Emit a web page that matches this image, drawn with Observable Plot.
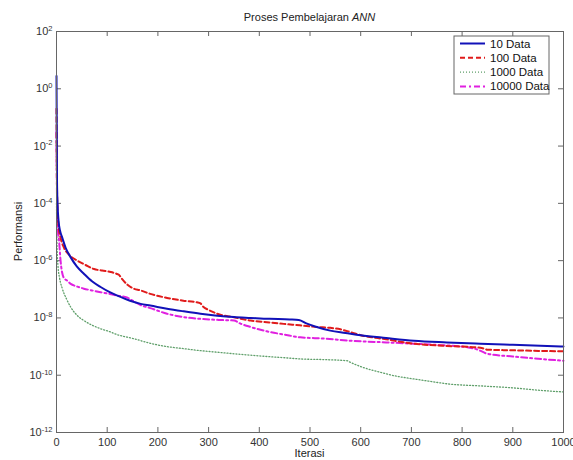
<!DOCTYPE html>
<html><head><meta charset="utf-8">
<script src="https://cdn.jsdelivr.net/npm/d3@7"></script>
<script src="https://cdn.jsdelivr.net/npm/@observablehq/plot@0.6"></script>
<style>body{margin:0;background:#fff} #chart{width:573px;height:460px}</style>
</head><body><div id="chart"></div>
<script>
const seriesNames = ["10 Data", "100 Data", "1000 Data", "10000 Data"];

const iter10 = [0,1,2,4,7,11,18,28,40,54,70,87,105,120,145,166,185,218,251,284,317,350,383,420,460,478,494,510,540,570,600,650,705,770,836,900,1000];
const perf10 = [2.8,6.3e-4,1e-4,2.5e-5,1.1e-5,6.6e-6,2.8e-6,1.3e-6,6.3e-7,3.5e-7,1.9e-7,1.2e-7,7.9e-8,6.0e-8,4.0e-8,3.1e-8,2.7e-8,2.1e-8,1.7e-8,1.4e-8,1.2e-8,1.07e-8,1.0e-8,9.3e-9,8.9e-9,8.5e-9,6.3e-9,5.0e-9,3.6e-9,3.0e-9,2.5e-9,2.0e-9,1.6e-9,1.4e-9,1.26e-9,1.15e-9,1.0e-9];

const iter100 = [0,1,2,4,8,14,25,41,57,74,90,107,118,123,130,139,150,166,185,218,250,277,284,290,300,317,350,383,415,448,480,514,540,560,580,600,650,705,770,836,850,900,1000];
const perf100 = [0.2,3.2e-4,6.3e-5,1.6e-5,6.3e-6,3.0e-6,1.6e-6,1.0e-6,7.1e-7,5.1e-7,4.5e-7,4.0e-7,3.5e-7,3.2e-7,2.2e-7,1.5e-7,1.1e-7,9.1e-8,6.9e-8,5.0e-8,4.0e-8,3.5e-8,3.2e-8,2.4e-8,1.9e-8,1.4e-8,1.05e-8,8.1e-9,7.1e-9,6.2e-9,5.5e-9,4.8e-9,4.5e-9,4.0e-9,3.2e-9,2.5e-9,1.8e-9,1.26e-9,1.05e-9,9.1e-10,7.8e-10,7.4e-10,6.8e-10];

const iter1000 = [0,1,3,6,11,20,28,40,54,70,87,105,120,152,185,218,250,284,320,350,383,415,448,481,530,573,580,600,639,670,705,740,771,840,902,950,1000];
const perf1000 = [1e-4,3.2e-6,6.3e-7,2.5e-7,1.12e-7,4.5e-8,2.4e-8,1.26e-8,8.1e-9,5.6e-9,4.2e-9,3.3e-9,2.6e-9,1.9e-9,1.3e-9,1.0e-9,8.5e-10,7.2e-10,6.3e-10,5.6e-10,5.0e-10,4.5e-10,4.1e-10,3.7e-10,3.5e-10,3.2e-10,2.8e-10,2.0e-10,1.26e-10,9.3e-11,7.4e-11,6.0e-11,5.0e-11,4.2e-11,3.6e-11,3.0e-11,2.6e-11];

const iter10000 = [0,1,2,3,5,8,14,21,28,40,54,70,87,105,120,139,150,166,185,218,251,284,320,350,363,380,415,450,481,530,580,650,705,760,810,830,850,900,1000];
const perf10000 = [3.2e-2,1.6e-4,2.5e-5,1e-5,5e-6,1e-6,2.6e-7,2.0e-7,1.55e-7,1.26e-7,1.05e-7,9.1e-8,7.9e-8,6.9e-8,6.0e-8,5.2e-8,4.0e-8,2.8e-8,2.2e-8,1.4e-8,1.07e-8,9.3e-9,8.5e-9,8.1e-9,6.3e-9,5.0e-9,3.4e-9,2.6e-9,2.1e-9,1.9e-9,1.6e-9,1.4e-9,1.26e-9,1.12e-9,9.5e-10,7.9e-10,5.6e-10,4.5e-10,3.2e-10];

const xTicks = [0,100,200,300,400,500,600,700,800,900,1000];
const yTicks = [1e-12,1e-10,1e-8,1e-6,1e-4,1e-2,1e0,1e2];

const W = 573, H = 460, mL = 56, mR = 10, mT = 31, mB = 28;
const innerW = W - mL - mR, innerH = H - mT - mB;
const FONT = "'Liberation Sans', Arial, Helvetica, sans-serif";

const styles = [
  {color: "#1111b8", width: 2, dash: null},
  {color: "#e01b1b", width: 2, dash: "5,3"},
  {color: "#5f9f6a", width: 1.3, dash: "1,2"},
  {color: "#e020e0", width: 2, dash: "6,3,2,3"}
];
const rows = (xs, ys) => xs.map((x, i) => ({iter: x, perf: ys[i]}));
const allData = [rows(iter10, perf10), rows(iter100, perf100), rows(iter1000, perf1000), rows(iter10000, perf10000)];
const drawOrder = [2, 3, 1, 0];

const plot = Plot.plot({
  width: W, height: H,
  marginLeft: mL, marginRight: mR, marginTop: mT, marginBottom: mB,
  style: {fontFamily: FONT, fontSize: "11px", background: "#fff", color: "#333"},
  x: {domain: [0, 1000]},
  y: {type: "log", domain: [1e-12, 1e2]},
  marks: [
    Plot.axisX(xTicks, {tickSize: 0, tickPadding: 6, label: null, tickFormat: d => String(d)}),
    Plot.axisY(yTicks, {tickSize: 0, tickPadding: 4, label: null, tickFormat: d => String(Math.round(Math.log10(d)))}),
    Plot.tickX(xTicks, {x: d => d, insetTop: innerH - 5, stroke: "#666"}),
    Plot.tickX(xTicks, {x: d => d, insetBottom: innerH - 5, stroke: "#666"}),
    Plot.tickY(yTicks, {y: d => d, insetRight: innerW - 5, stroke: "#666"}),
    Plot.tickY(yTicks, {y: d => d, insetLeft: innerW - 5, stroke: "#666"}),
    ...drawOrder.map(i => Plot.line(allData[i], {
      x: "iter", y: "perf", stroke: styles[i].color, strokeWidth: styles[i].width,
      strokeDasharray: styles[i].dash, curve: "monotone-x"
    })),
    Plot.frame({stroke: "#666"})
  ]
});

const svg = d3.select(plot);
svg.selectAll('g[aria-label="y-axis tick label"] text').each(function () {
  const e = this.textContent;
  const t = d3.select(this);
  t.text("10");
  t.append("tspan").attr("dy", "-0.55em").attr("font-size", "7.5px").text(e);
});

// title
const title = svg.append("text").attr("x", (mL + W - mR) / 2).attr("y", 21)
  .attr("text-anchor", "middle").attr("font-family", FONT).attr("font-size", "11px").attr("fill", "#222");
title.append("tspan").text("Proses Pembelajaran ");
title.append("tspan").attr("font-style", "italic").text("ANN");

// axis labels
svg.append("text").attr("x", (mL + W - mR) / 2).attr("y", 457)
  .attr("text-anchor", "middle").attr("font-family", FONT).attr("font-size", "11px").attr("fill", "#222").text("Iterasi");
svg.append("text").attr("transform", `translate(22,${mT + innerH / 2}) rotate(-90)`)
  .attr("text-anchor", "middle").attr("font-family", FONT).attr("font-size", "11px").attr("fill", "#222").text("Performansi");

// legend
const lg = svg.append("g").attr("transform", "translate(454,36)");
lg.append("rect").attr("width", 95).attr("height", 58).attr("fill", "#fff").attr("stroke", "#666");
seriesNames.forEach((name, i) => {
  const y = 7.5 + i * 14.3;
  lg.append("line").attr("x1", 6).attr("x2", 31).attr("y1", y).attr("y2", y)
    .attr("stroke", styles[i].color).attr("stroke-width", styles[i].width)
    .attr("stroke-dasharray", styles[i].dash);
  lg.append("text").attr("x", 36).attr("y", y).attr("dy", "0.35em").attr("text-anchor", "start")
    .attr("font-family", FONT).attr("font-size", "11.5px").attr("fill", "#111").text(name);
});

document.getElementById("chart").appendChild(plot);
</script>
</body></html>
